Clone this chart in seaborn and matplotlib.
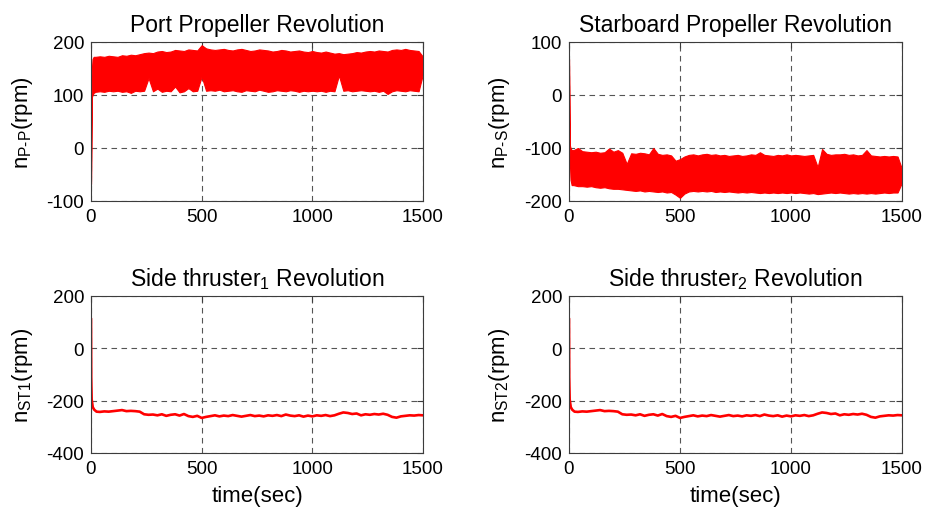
import numpy as np
import pandas as pd
import matplotlib
matplotlib.use("Agg")
import matplotlib.pyplot as plt
import seaborn as sns

# ---------------- data (rpm) ----------------
# Propellers: sample times with upper / lower envelope of the fluctuating signal
prop_time = [0, 2, 4, 7, 12,
             20, 40, 60, 80, 100, 120, 140, 160, 180, 200, 220, 240, 260, 280, 300,
             320, 340, 360, 380, 400, 420, 440, 460, 480, 500, 520, 540, 560, 580, 600,
             620, 640, 660, 680, 700, 720, 740, 760, 780, 800, 820, 840, 860, 880, 900,
             920, 940, 960, 980, 1000, 1020, 1040, 1060, 1080, 1100, 1120, 1140, 1160,
             1180, 1200, 1220, 1240, 1260, 1280, 1300, 1320, 1340, 1360, 1380, 1400,
             1420, 1440, 1460, 1480, 1500]

port_hi = [-68, 55, 150, 168, 172,
           172, 173, 172, 174, 173, 172, 175, 174, 176, 175,
           177, 179, 180, 179, 182, 183, 181, 182, 185, 184, 183, 186, 185, 184,
           194,
           188, 186, 185, 186, 187, 185, 184, 186, 187, 185, 183, 184, 186, 185, 184,
           182, 183, 185, 184, 182, 183, 184, 182, 181, 183,
           181, 180, 182, 180, 178, 179, 177, 178, 179, 181,
           180, 182, 183, 182, 184, 183, 182, 185, 186, 185, 187, 185, 184, 183,
           172]

port_lo = [-68, 55, 96, 100, 104,
           106, 107, 106, 108, 107, 108, 106, 107, 104, 108,
           107, 108, 132, 107, 112, 106, 108, 107, 116, 105, 107, 113, 107, 108,
           135,
           108, 109, 108, 110, 107, 108, 109, 107, 106, 109, 108, 107, 110, 108, 106,
           107, 109, 108, 107, 109, 108, 106, 108, 107, 108,
           107, 108, 106, 108, 107, 137, 108, 109, 107, 108,
           109, 108, 107, 108, 106, 108, 102, 107, 109, 108, 107, 109, 108, 107,
           140]

stbd_hi = [68, -55, -95, -100, -104,
           -104, -100, -106, -107, -108, -107, -109, -108, -101, -107,
           -104, -109, -130, -110, -111, -109, -110, -112, -100, -111, -113, -112, -114, -124,
           -121,
           -116, -113, -112, -114, -112, -111, -113, -112, -114, -113, -115, -114, -113, -115, -114,
           -112, -113, -108, -113, -114, -115, -113, -114, -112, -114,
           -113, -114, -115, -114, -113, -136, -102, -111, -113, -112,
           -112, -111, -113, -112, -114, -113, -104, -114, -115, -116, -115, -116, -115, -116,
           -140]

stbd_lo = [68, -55, -130, -160, -170,
           -170, -172, -172, -173, -172, -174, -175, -174, -176, -177,
           -177, -178, -179, -180, -181, -180, -182, -181, -182, -183, -182, -184, -183, -188,
           -194,
           -186, -182, -181, -182, -181, -182, -181, -183, -182, -183, -182, -183, -184, -183, -184,
           -183, -184, -185, -184, -185, -184, -185, -184, -185, -184,
           -185, -184, -185, -186, -185, -187, -186, -185, -184, -185,
           -184, -185, -186, -185, -186, -185, -186, -185, -186, -185, -184, -185, -184, -184,
           -165]

# Side thrusters
st_time = [0, 1, 3, 8, 15, 25,
           40, 60, 80, 100, 120, 140, 160, 180, 200, 220, 240, 260, 280, 300,
           320, 340, 360, 380, 400, 420, 440, 460, 480, 500, 520, 540, 560, 580, 600,
           620, 640, 660, 680, 700, 720, 740, 760, 780, 800, 820, 840, 860, 880, 900,
           920, 940, 960, 980, 1000, 1020, 1040, 1060, 1080, 1100, 1120, 1140, 1160,
           1180, 1200, 1220, 1240, 1260, 1280, 1300, 1320, 1340, 1360, 1380, 1400,
           1420, 1440, 1460, 1480, 1500]

st1_rpm = [114, -113, -195, -225, -235, -242,
           -243, -241, -242, -240, -238, -236, -240, -239, -240, -242, -252, -254, -253, -256,
           -252, -258, -254, -252, -257, -251, -259, -262, -258, -266, -262, -259, -256, -260, -257,
           -259, -255, -258, -261, -258, -255, -259, -257, -260, -256, -258, -255, -259, -253, -257,
           -259, -256, -261, -257, -260, -256, -258, -255, -259, -256, -250, -245, -247,
           -251, -249, -256, -252, -254, -251, -253, -250, -254, -262, -265, -260,
           -258, -256, -257, -255, -256]

st2_rpm = [114, -113, -195, -225, -235, -242,
           -243, -241, -242, -240, -238, -236, -240, -239, -240, -242, -252, -254, -253, -256,
           -252, -258, -254, -252, -257, -251, -259, -262, -258, -266, -262, -259, -256, -260, -257,
           -259, -255, -258, -261, -258, -255, -259, -257, -260, -256, -258, -255, -259, -253, -257,
           -259, -256, -261, -257, -260, -256, -258, -255, -259, -256, -250, -245, -247,
           -251, -249, -256, -252, -254, -251, -253, -250, -254, -262, -265, -260,
           -258, -256, -257, -255, -256]

titles = ["Port Propeller Revolution", "Starboard Propeller Revolution",
          r"Side thruster$_{\mathregular{1}}$ Revolution",
          r"Side thruster$_{\mathregular{2}}$ Revolution"]
ylabels = ["n$_{\\mathregular{P\u2010P}}$(rpm)", "n$_{\\mathregular{P\u2010S}}$(rpm)",
           r"n$_{\mathregular{ST1}}$(rpm)", r"n$_{\mathregular{ST2}}$(rpm)"]
yticks = [[-100, 0, 100, 200], [-200, -100, 0, 100],
          [-400, -200, 0, 200], [-400, -200, 0, 200]]
xticks = [0, 500, 1000, 1500]

# ---------------- style ----------------
sns.set_theme(style="white")
plt.rcParams.update({
    "font.family": ["Liberation Sans", "DejaVu Sans"],
    "mathtext.fontset": "custom",
    "mathtext.rm": "Liberation Sans",
    "axes.unicode_minus": False,
    "axes.edgecolor": "#3c3c3c",
    "axes.linewidth": 0.8,
    "xtick.direction": "in",
    "ytick.direction": "in",
    "xtick.color": "#3c3c3c",
    "ytick.color": "#3c3c3c",
    "xtick.labelcolor": "black",
    "ytick.labelcolor": "black",
})

fig = plt.figure(figsize=(9.25, 5.1), dpi=100)
W, H = 925, 510
boxes = [(91, 43, 332, 159), (569, 43, 333, 159),
         (91, 297, 332, 157), (569, 297, 333, 157)]
axes = [fig.add_axes([l / W, 1 - (t + h) / H, w / W, h / H]) for l, t, w, h in boxes]

RED = "#ff0000"


def band_frame(t, hi, lo):
    return pd.concat([pd.DataFrame({"t": t, "rpm": hi}),
                      pd.DataFrame({"t": t, "rpm": lo})], ignore_index=True)


# propellers: min-max band of the fluctuating revolution
for ax, hi, lo in [(axes[0], port_hi, port_lo), (axes[1], stbd_hi, stbd_lo)]:
    sns.lineplot(data=band_frame(prop_time, hi, lo), x="t", y="rpm", ax=ax,
                 estimator="mean", errorbar=("pi", 100), color=RED, lw=1.2,
                 err_kws={"alpha": 1, "linewidth": 0.8, "edgecolor": RED})

# side thrusters
for ax, vals in [(axes[2], st1_rpm), (axes[3], st2_rpm)]:
    sns.lineplot(x=st_time, y=vals, ax=ax, color=RED, lw=1.9)

for i, ax in enumerate(axes):
    ax.set_xlim(0, 1500)
    ax.set_ylim(yticks[i][0], yticks[i][-1])
    ax.set_xticks(xticks)
    ax.set_yticks(yticks[i])
    ax.tick_params(axis="both", labelsize=13.5, length=4, width=0.8,
                   top=True, right=True, pad=5)
    ax.grid(True, color="#555555", linestyle=(0, (5, 4)), linewidth=0.8)
    ax.set_title(titles[i], fontsize=16.5, pad=8, color="black")
    ax.set_ylabel(ylabels[i], fontsize=16, color="black")
    ax.yaxis.set_label_coords(-0.17, 0.5)
    if i >= 2:
        ax.set_xlabel("time(sec)", fontsize=16, labelpad=6, color="black")
    else:
        ax.set_xlabel("")
    for s in ax.spines.values():
        s.set_visible(True)

fig.savefig("out.png", dpi=100)
